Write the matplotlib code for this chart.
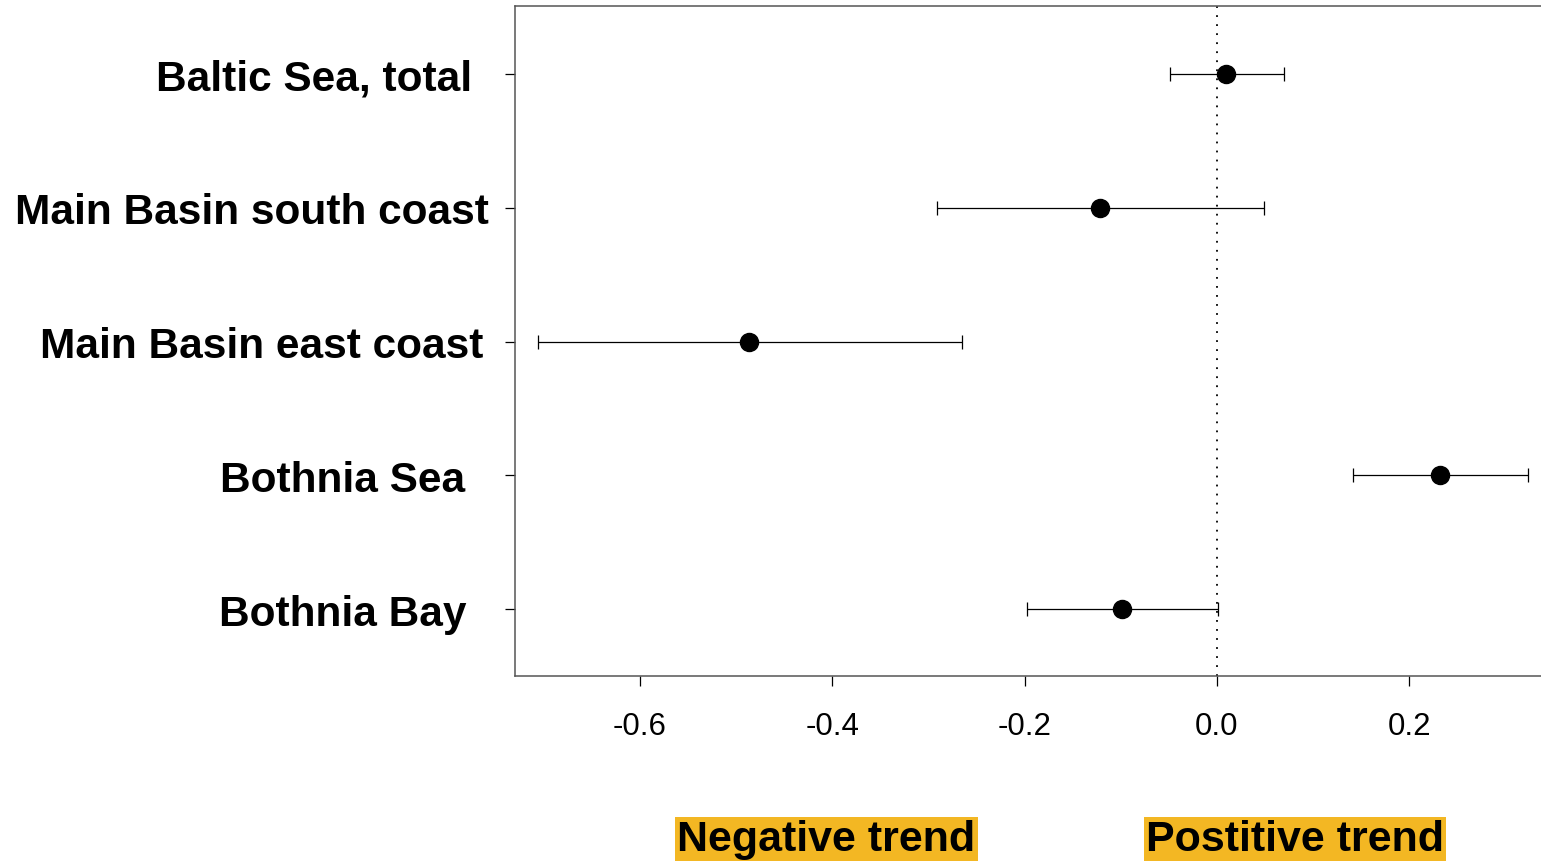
import numpy as np
import matplotlib
matplotlib.use("Agg")
import matplotlib.pyplot as plt

# --- Dados ---
regions = ["Baltic Sea, total", "Main Basin south coast", "Main Basin east coast",
           "Bothnia Sea", "Bothnia Bay"]
trend = [0.009, -0.122, -0.487, 0.232, -0.099]
lower = [-0.049, -0.291, -0.706, 0.141, -0.198]
upper = [0.070, 0.049, -0.265, 0.324, 0.001]
xticks = [-0.6, -0.4, -0.2, 0.0, 0.2]
# recuo extra de cada rótulo (pontos), imitando os espaços no original
label_pad = [24, 12, 16, 29, 28]

plt.rcParams['font.family'] = ['Liberation Sans', 'DejaVu Sans']

fig = plt.figure(figsize=(15.41, 8.62), dpi=100)
ax = fig.add_axes([0.3342, 0.2146, 0.6658, 0.7773])

ypos = np.arange(len(regions), 0, -1)
trend = np.array(trend)
err = np.array([trend - np.array(lower), np.array(upper) - trend])

ax.axvline(0, color='black', linestyle=(0, (1, 4)), linewidth=1.3, zorder=1)
ax.errorbar(trend, ypos, xerr=err, fmt='o', color='black', ecolor='black',
            markersize=13, elinewidth=0.9, capsize=5, capthick=0.9, zorder=3)

ax.set_xlim(-0.730, 0.337)
ax.set_ylim(0.5, 5.51)

ax.set_xticks(xticks)
ax.set_xticklabels([f"{v:.1f}" for v in xticks], fontsize=22.5)
ax.set_yticks(ypos)
ax.set_yticklabels(regions, fontsize=30.5, fontweight='bold')
ax.tick_params(axis='x', direction='out', length=7, width=0.9, pad=18)
ax.tick_params(axis='y', direction='out', length=7, width=0.9)
for tk, p in zip(ax.yaxis.get_major_ticks(), label_pad):
    tk.set_pad(p)

for side in ['left', 'top', 'bottom']:
    ax.spines[side].set_color('#555555')
    ax.spines[side].set_linewidth(1.1)
ax.spines['right'].set_visible(False)

# caixas "Negative trend" / "Postitive trend" abaixo do eixo
trf = matplotlib.transforms.blended_transform_factory(ax.transData, fig.transFigure)
box = dict(facecolor='#F3B723', edgecolor='none', pad=1.5)
ax.text(-0.406, 0.0255, "Negative trend", transform=trf,
        fontsize=31, fontweight='bold', ha='center', va='center', bbox=box)
ax.text(0.081, 0.0255, "Postitive trend", transform=trf,
        fontsize=31, fontweight='bold', ha='center', va='center', bbox=box)

fig.savefig("out.png", dpi=100)
